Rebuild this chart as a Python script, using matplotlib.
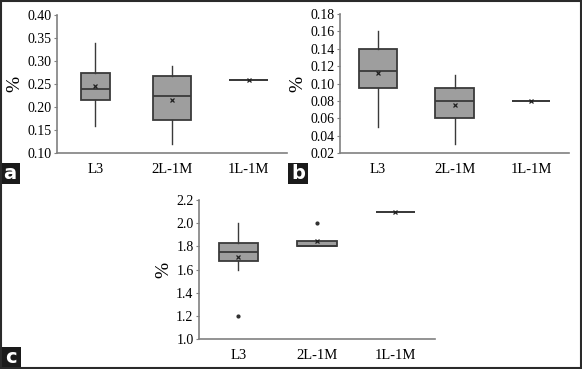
import matplotlib.pyplot as plt
from matplotlib.patches import Rectangle

# categories shared by the three panels
groups = ['L3', '2L-1M', '1L-1M']

# panel a : whisker low, Q1, median, Q3, whisker high, mean
a_low = [0.16, 0.12, 0.26]
a_q1 = [0.215, 0.172, 0.26]
a_med = [0.24, 0.225, 0.26]
a_q3 = [0.275, 0.267, 0.26]
a_high = [0.34, 0.29, 0.26]
a_mean = [0.245, 0.215, 0.26]
a_fliers = [[], [], []]
a_ticks = [0.10, 0.15, 0.20, 0.25, 0.30, 0.35, 0.40]

# panel b
b_low = [0.05, 0.03, 0.08]
b_q1 = [0.095, 0.06, 0.08]
b_med = [0.115, 0.08, 0.08]
b_q3 = [0.14, 0.095, 0.08]
b_high = [0.16, 0.11, 0.08]
b_mean = [0.112, 0.075, 0.08]
b_fliers = [[], [], []]
b_ticks = [0.02, 0.04, 0.06, 0.08, 0.10, 0.12, 0.14, 0.16, 0.18]

# panel c
c_low = [1.6, 1.8, 2.1]
c_q1 = [1.675, 1.8, 2.1]
c_med = [1.75, 1.8, 2.1]
c_q3 = [1.825, 1.85, 2.1]
c_high = [2.0, 1.85, 2.1]
c_mean = [1.71, 1.85, 2.1]
c_fliers = [[1.2], [2.0], []]
c_ticks = [1.0, 1.2, 1.4, 1.6, 1.8, 2.0, 2.2]

plt.rcParams['font.family'] = ['Liberation Serif', 'DejaVu Serif']

edge = '#3a3a3a'
fill = '#9e9e9e'


def make_stats(low, q1, med, q3, high, mean, fliers):
    st = []
    for i in range(len(groups)):
        st.append(dict(label=groups[i], whislo=low[i], q1=q1[i], med=med[i],
                       q3=q3[i], whishi=high[i], mean=mean[i], fliers=fliers[i]))
    return st


def draw(ax, stats, ticks, fmt, widths):
    ax.bxp(stats, positions=[1, 2, 3], widths=widths, showmeans=True,
           patch_artist=True, showcaps=False,
           boxprops=dict(facecolor=fill, edgecolor=edge, linewidth=1.3),
           medianprops=dict(color=edge, linewidth=1.3),
           whiskerprops=dict(color=edge, linewidth=1.0),
           meanprops=dict(marker='x', markeredgecolor='#202020', markersize=3.5, markeredgewidth=0.9),
           flierprops=dict(marker='o', markerfacecolor='#303030', markeredgecolor='#303030', markersize=2))
    ax.set_xlim(0.5, 3.5)
    ax.set_ylim(ticks[0], ticks[-1])
    ax.set_yticks(ticks)
    ax.set_yticklabels([fmt % t for t in ticks])
    ax.spines['top'].set_visible(False)
    ax.spines['right'].set_visible(False)
    for s in ['left', 'bottom']:
        ax.spines[s].set_color('#808080')
        ax.spines[s].set_linewidth(1.2)
    ax.tick_params(axis='y', length=2, width=0.8, color='#808080', labelsize=10, pad=2)
    ax.tick_params(axis='x', length=0, labelsize=10.5, pad=7)
    ax.set_ylabel('%', fontsize=14, labelpad=3)


fig = plt.figure(figsize=(5.82, 3.69), dpi=100)

ax_a = fig.add_axes([0.098, 0.585, 0.395, 0.374])
draw(ax_a, make_stats(a_low, a_q1, a_med, a_q3, a_high, a_mean, a_fliers), a_ticks, '%.2f',
     [0.38, 0.5, 0.5])

ax_b = fig.add_axes([0.584, 0.585, 0.394, 0.377])
draw(ax_b, make_stats(b_low, b_q1, b_med, b_q3, b_high, b_mean, b_fliers), b_ticks, '%.2f',
     [0.5, 0.5, 0.5])

ax_c = fig.add_axes([0.342, 0.081, 0.405, 0.377])
draw(ax_c, make_stats(c_low, c_q1, c_med, c_q3, c_high, c_mean, c_fliers), c_ticks, '%.1f',
     [0.5, 0.5, 0.5])

# panel letters in black boxes
for x0, y0, w, h, t in [(0.0, 0.501, 0.0344, 0.057, 'a'),
                        (0.495, 0.501, 0.0344, 0.057, 'b'),
                        (0.0, 0.003, 0.036, 0.057, 'c')]:
    fig.add_artist(Rectangle((x0, y0), w, h, transform=fig.transFigure,
                             facecolor='#1a1a1a', edgecolor='none'))
    fig.text(x0 + w / 2, y0 + h / 2, t, color='white', fontsize=14,
             family='DejaVu Sans', weight='bold', ha='center', va='center')

# outer frame
fig.add_artist(Rectangle((0.001, 0.002), 0.997, 0.995, transform=fig.transFigure,
                         facecolor='none', edgecolor='#2a2a2a', linewidth=1.5))

fig.savefig('out.png', dpi=100)
